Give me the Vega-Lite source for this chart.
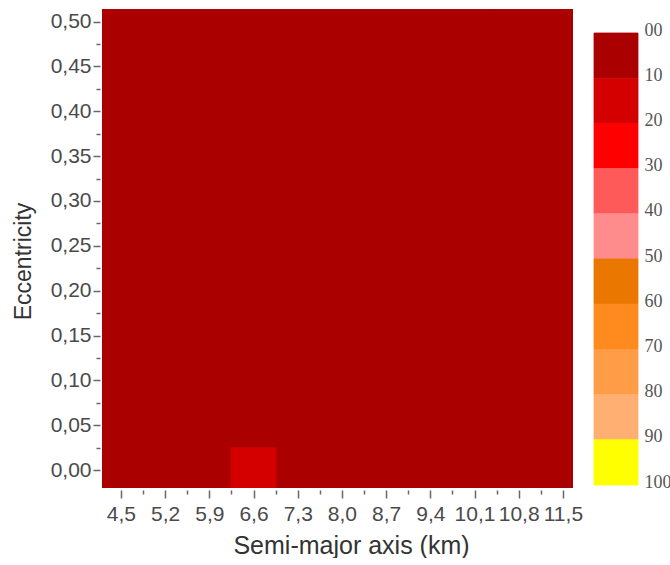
{
  "$schema": "https://vega.github.io/schema/vega-lite/v6.json",
  "background": "white",
  "padding": {"left": 12, "top": 9, "right": 0, "bottom": 0},
  "spacing": 10,
  "datasets": {
    "grid": [
      {"x0":4.15,"x1":4.85,"y0":-0.02,"y1":0.0245,"v":5},{"x0":4.15,"x1":4.85,"y0":0.0245,"y1":0.069,"v":5},{"x0":4.15,"x1":4.85,"y0":0.069,"y1":0.1135,"v":5},{"x0":4.15,"x1":4.85,"y0":0.1135,"y1":0.158,"v":5},{"x0":4.15,"x1":4.85,"y0":0.158,"y1":0.2025,"v":5},{"x0":4.15,"x1":4.85,"y0":0.2025,"y1":0.247,"v":5},{"x0":4.15,"x1":4.85,"y0":0.247,"y1":0.2915,"v":5},{"x0":4.15,"x1":4.85,"y0":0.2915,"y1":0.336,"v":5},{"x0":4.15,"x1":4.85,"y0":0.336,"y1":0.3805,"v":5},{"x0":4.15,"x1":4.85,"y0":0.3805,"y1":0.425,"v":5},{"x0":4.15,"x1":4.85,"y0":0.425,"y1":0.4695,"v":5},{"x0":4.15,"x1":4.85,"y0":0.4695,"y1":0.514,"v":5},
      {"x0":4.85,"x1":5.55,"y0":-0.02,"y1":0.0245,"v":5},{"x0":4.85,"x1":5.55,"y0":0.0245,"y1":0.069,"v":5},{"x0":4.85,"x1":5.55,"y0":0.069,"y1":0.1135,"v":5},{"x0":4.85,"x1":5.55,"y0":0.1135,"y1":0.158,"v":5},{"x0":4.85,"x1":5.55,"y0":0.158,"y1":0.2025,"v":5},{"x0":4.85,"x1":5.55,"y0":0.2025,"y1":0.247,"v":5},{"x0":4.85,"x1":5.55,"y0":0.247,"y1":0.2915,"v":5},{"x0":4.85,"x1":5.55,"y0":0.2915,"y1":0.336,"v":5},{"x0":4.85,"x1":5.55,"y0":0.336,"y1":0.3805,"v":5},{"x0":4.85,"x1":5.55,"y0":0.3805,"y1":0.425,"v":5},{"x0":4.85,"x1":5.55,"y0":0.425,"y1":0.4695,"v":5},{"x0":4.85,"x1":5.55,"y0":0.4695,"y1":0.514,"v":5},
      {"x0":5.55,"x1":6.25,"y0":-0.02,"y1":0.0245,"v":5},{"x0":5.55,"x1":6.25,"y0":0.0245,"y1":0.069,"v":5},{"x0":5.55,"x1":6.25,"y0":0.069,"y1":0.1135,"v":5},{"x0":5.55,"x1":6.25,"y0":0.1135,"y1":0.158,"v":5},{"x0":5.55,"x1":6.25,"y0":0.158,"y1":0.2025,"v":5},{"x0":5.55,"x1":6.25,"y0":0.2025,"y1":0.247,"v":5},{"x0":5.55,"x1":6.25,"y0":0.247,"y1":0.2915,"v":5},{"x0":5.55,"x1":6.25,"y0":0.2915,"y1":0.336,"v":5},{"x0":5.55,"x1":6.25,"y0":0.336,"y1":0.3805,"v":5},{"x0":5.55,"x1":6.25,"y0":0.3805,"y1":0.425,"v":5},{"x0":5.55,"x1":6.25,"y0":0.425,"y1":0.4695,"v":5},{"x0":5.55,"x1":6.25,"y0":0.4695,"y1":0.514,"v":5},
      {"x0":6.95,"x1":7.65,"y0":-0.02,"y1":0.0245,"v":5},{"x0":6.95,"x1":7.65,"y0":0.0245,"y1":0.069,"v":5},{"x0":6.95,"x1":7.65,"y0":0.069,"y1":0.1135,"v":5},{"x0":6.95,"x1":7.65,"y0":0.1135,"y1":0.158,"v":5},{"x0":6.95,"x1":7.65,"y0":0.158,"y1":0.2025,"v":5},{"x0":6.95,"x1":7.65,"y0":0.2025,"y1":0.247,"v":5},{"x0":6.95,"x1":7.65,"y0":0.247,"y1":0.2915,"v":5},{"x0":6.95,"x1":7.65,"y0":0.2915,"y1":0.336,"v":5},{"x0":6.95,"x1":7.65,"y0":0.336,"y1":0.3805,"v":5},{"x0":6.95,"x1":7.65,"y0":0.3805,"y1":0.425,"v":5},{"x0":6.95,"x1":7.65,"y0":0.425,"y1":0.4695,"v":5},{"x0":6.95,"x1":7.65,"y0":0.4695,"y1":0.514,"v":5},
      {"x0":7.65,"x1":8.35,"y0":-0.02,"y1":0.0245,"v":5},{"x0":7.65,"x1":8.35,"y0":0.0245,"y1":0.069,"v":5},{"x0":7.65,"x1":8.35,"y0":0.069,"y1":0.1135,"v":5},{"x0":7.65,"x1":8.35,"y0":0.1135,"y1":0.158,"v":5},{"x0":7.65,"x1":8.35,"y0":0.158,"y1":0.2025,"v":5},{"x0":7.65,"x1":8.35,"y0":0.2025,"y1":0.247,"v":5},{"x0":7.65,"x1":8.35,"y0":0.247,"y1":0.2915,"v":5},{"x0":7.65,"x1":8.35,"y0":0.2915,"y1":0.336,"v":5},{"x0":7.65,"x1":8.35,"y0":0.336,"y1":0.3805,"v":5},{"x0":7.65,"x1":8.35,"y0":0.3805,"y1":0.425,"v":5},{"x0":7.65,"x1":8.35,"y0":0.425,"y1":0.4695,"v":5},{"x0":7.65,"x1":8.35,"y0":0.4695,"y1":0.514,"v":5},
      {"x0":8.35,"x1":9.05,"y0":-0.02,"y1":0.0245,"v":5},{"x0":8.35,"x1":9.05,"y0":0.0245,"y1":0.069,"v":5},{"x0":8.35,"x1":9.05,"y0":0.069,"y1":0.1135,"v":5},{"x0":8.35,"x1":9.05,"y0":0.1135,"y1":0.158,"v":5},{"x0":8.35,"x1":9.05,"y0":0.158,"y1":0.2025,"v":5},{"x0":8.35,"x1":9.05,"y0":0.2025,"y1":0.247,"v":5},{"x0":8.35,"x1":9.05,"y0":0.247,"y1":0.2915,"v":5},{"x0":8.35,"x1":9.05,"y0":0.2915,"y1":0.336,"v":5},{"x0":8.35,"x1":9.05,"y0":0.336,"y1":0.3805,"v":5},{"x0":8.35,"x1":9.05,"y0":0.3805,"y1":0.425,"v":5},{"x0":8.35,"x1":9.05,"y0":0.425,"y1":0.4695,"v":5},{"x0":8.35,"x1":9.05,"y0":0.4695,"y1":0.514,"v":5},
      {"x0":9.05,"x1":9.75,"y0":-0.02,"y1":0.0245,"v":5},{"x0":9.05,"x1":9.75,"y0":0.0245,"y1":0.069,"v":5},{"x0":9.05,"x1":9.75,"y0":0.069,"y1":0.1135,"v":5},{"x0":9.05,"x1":9.75,"y0":0.1135,"y1":0.158,"v":5},{"x0":9.05,"x1":9.75,"y0":0.158,"y1":0.2025,"v":5},{"x0":9.05,"x1":9.75,"y0":0.2025,"y1":0.247,"v":5},{"x0":9.05,"x1":9.75,"y0":0.247,"y1":0.2915,"v":5},{"x0":9.05,"x1":9.75,"y0":0.2915,"y1":0.336,"v":5},{"x0":9.05,"x1":9.75,"y0":0.336,"y1":0.3805,"v":5},{"x0":9.05,"x1":9.75,"y0":0.3805,"y1":0.425,"v":5},{"x0":9.05,"x1":9.75,"y0":0.425,"y1":0.4695,"v":5},{"x0":9.05,"x1":9.75,"y0":0.4695,"y1":0.514,"v":5},
      {"x0":9.75,"x1":10.45,"y0":-0.02,"y1":0.0245,"v":5},{"x0":9.75,"x1":10.45,"y0":0.0245,"y1":0.069,"v":5},{"x0":9.75,"x1":10.45,"y0":0.069,"y1":0.1135,"v":5},{"x0":9.75,"x1":10.45,"y0":0.1135,"y1":0.158,"v":5},{"x0":9.75,"x1":10.45,"y0":0.158,"y1":0.2025,"v":5},{"x0":9.75,"x1":10.45,"y0":0.2025,"y1":0.247,"v":5},{"x0":9.75,"x1":10.45,"y0":0.247,"y1":0.2915,"v":5},{"x0":9.75,"x1":10.45,"y0":0.2915,"y1":0.336,"v":5},{"x0":9.75,"x1":10.45,"y0":0.336,"y1":0.3805,"v":5},{"x0":9.75,"x1":10.45,"y0":0.3805,"y1":0.425,"v":5},{"x0":9.75,"x1":10.45,"y0":0.425,"y1":0.4695,"v":5},{"x0":9.75,"x1":10.45,"y0":0.4695,"y1":0.514,"v":5},
      {"x0":10.45,"x1":11.15,"y0":-0.02,"y1":0.0245,"v":5},{"x0":10.45,"x1":11.15,"y0":0.0245,"y1":0.069,"v":5},{"x0":10.45,"x1":11.15,"y0":0.069,"y1":0.1135,"v":5},{"x0":10.45,"x1":11.15,"y0":0.1135,"y1":0.158,"v":5},{"x0":10.45,"x1":11.15,"y0":0.158,"y1":0.2025,"v":5},{"x0":10.45,"x1":11.15,"y0":0.2025,"y1":0.247,"v":5},{"x0":10.45,"x1":11.15,"y0":0.247,"y1":0.2915,"v":5},{"x0":10.45,"x1":11.15,"y0":0.2915,"y1":0.336,"v":5},{"x0":10.45,"x1":11.15,"y0":0.336,"y1":0.3805,"v":5},{"x0":10.45,"x1":11.15,"y0":0.3805,"y1":0.425,"v":5},{"x0":10.45,"x1":11.15,"y0":0.425,"y1":0.4695,"v":5},{"x0":10.45,"x1":11.15,"y0":0.4695,"y1":0.514,"v":5},
      {"x0":11.15,"x1":11.85,"y0":-0.02,"y1":0.0245,"v":5},{"x0":11.15,"x1":11.85,"y0":0.0245,"y1":0.069,"v":5},{"x0":11.15,"x1":11.85,"y0":0.069,"y1":0.1135,"v":5},{"x0":11.15,"x1":11.85,"y0":0.1135,"y1":0.158,"v":5},{"x0":11.15,"x1":11.85,"y0":0.158,"y1":0.2025,"v":5},{"x0":11.15,"x1":11.85,"y0":0.2025,"y1":0.247,"v":5},{"x0":11.15,"x1":11.85,"y0":0.247,"y1":0.2915,"v":5},{"x0":11.15,"x1":11.85,"y0":0.2915,"y1":0.336,"v":5},{"x0":11.15,"x1":11.85,"y0":0.336,"y1":0.3805,"v":5},{"x0":11.15,"x1":11.85,"y0":0.3805,"y1":0.425,"v":5},{"x0":11.15,"x1":11.85,"y0":0.425,"y1":0.4695,"v":5},{"x0":11.15,"x1":11.85,"y0":0.4695,"y1":0.514,"v":5},
      {"x0":6.25,"x1":6.95,"y0":0.0245,"y1":0.069,"v":5},{"x0":6.25,"x1":6.95,"y0":0.069,"y1":0.1135,"v":5},{"x0":6.25,"x1":6.95,"y0":0.1135,"y1":0.158,"v":5},{"x0":6.25,"x1":6.95,"y0":0.158,"y1":0.2025,"v":5},{"x0":6.25,"x1":6.95,"y0":0.2025,"y1":0.247,"v":5},{"x0":6.25,"x1":6.95,"y0":0.247,"y1":0.2915,"v":5},{"x0":6.25,"x1":6.95,"y0":0.2915,"y1":0.336,"v":5},{"x0":6.25,"x1":6.95,"y0":0.336,"y1":0.3805,"v":5},{"x0":6.25,"x1":6.95,"y0":0.3805,"y1":0.425,"v":5},{"x0":6.25,"x1":6.95,"y0":0.425,"y1":0.4695,"v":5},{"x0":6.25,"x1":6.95,"y0":0.4695,"y1":0.514,"v":5},
      {"x0":6.25,"x1":6.95,"y0":-0.02,"y1":0.0245,"v":15}
    ],
    "bins": [
      {"lo":0,"hi":10},{"lo":10,"hi":20},{"lo":20,"hi":30},{"lo":30,"hi":40},{"lo":40,"hi":50},
      {"lo":50,"hi":60},{"lo":60,"hi":70},{"lo":70,"hi":80},{"lo":80,"hi":90},{"lo":90,"hi":100}
    ]
  },
  "hconcat": [
    {
      "width": 471,
      "height": 479,
      "data": {"name": "grid"},
      "layer": [
        {
          "mark": {"type": "rect", "clip": true, "strokeWidth": 1.5},
          "encoding": {
            "x": {"field": "x0", "type": "quantitative",
              "scale": {"domain": [4.2, 11.66], "nice": false, "zero": false},
              "axis": {"orient": "bottom", "values": [4.5,5.2,5.9,6.6,7.3,8.0,8.7,9.4,10.1,10.8,11.5],
                "labelExpr": "replace(format(datum.value,'.1f'),'.',',')",
                "title": "Semi-major axis (km)", "domain": false, "grid": false,
                "tickSize": 8, "offset": 2, "labelPadding": 5, "labelFlush": false, "labelOverlap": false,
                "titlePadding": 9, "titleFontSize": 25, "titleX": 249}},
            "x2": {"field": "x1"},
            "y": {"field": "y0", "type": "quantitative",
              "scale": {"domain": [-0.02, 0.514], "nice": false, "zero": false},
              "axis": {"orient": "left", "values": [0,0.05,0.1,0.15,0.2,0.25,0.3,0.35,0.4,0.45,0.5],
                "labelExpr": "replace(format(datum.value,'.2f'),'.',',')",
                "title": "Eccentricity", "domain": false, "grid": false,
                "tickSize": 7, "offset": 2, "labelPadding": 2, "labelFlush": false, "labelOverlap": false,
                "titlePadding": 15, "titleFontSize": 23, "titleY": 252}},
            "y2": {"field": "y1"},
            "color": {"field": "v", "type": "quantitative",
              "scale": {"type": "threshold", "domain": [10,20,30,40,50,60,70,80,90],
                "range": ["#AA0000","#D40000","#FF0000","#FF5A5A","#FF8C8C","#EA7700","#FF8A1E","#FF9C48","#FFAF72","#FFFF00"]},
              "legend": null},
            "stroke": {"field": "v", "type": "quantitative",
              "scale": {"type": "threshold", "domain": [10,20,30,40,50,60,70,80,90],
                "range": ["#AA0000","#D40000","#FF0000","#FF5A5A","#FF8C8C","#EA7700","#FF8A1E","#FF9C48","#FFAF72","#FFFF00"]},
              "legend": null}
          }
        },
        {
          "mark": {"type": "rect", "clip": true, "opacity": 0},
          "encoding": {
            "x": {"field": "x0", "type": "quantitative",
              "axis": {"orient": "bottom", "values": [4.85,5.55,6.25,6.95,7.65,8.35,9.05,9.75,10.45,11.15],
                "labels": false, "title": null, "domain": false, "grid": false, "tickSize": 4, "offset": 2}},
            "x2": {"field": "x1"},
            "y": {"field": "y0", "type": "quantitative",
              "axis": {"orient": "left", "values": [0.025,0.075,0.125,0.175,0.225,0.275,0.325,0.375,0.425,0.475],
                "labels": false, "title": null, "domain": false, "grid": false, "tickSize": 4, "offset": 2}},
            "y2": {"field": "y1"}
          }
        }
      ],
      "resolve": {"axis": {"x": "independent", "y": "independent"}}
    },
    {
      "width": 44,
      "height": 479,
      "data": {"name": "bins"},
      "mark": {"type": "rect", "strokeWidth": 0.8},
      "encoding": {
        "y": {"field": "lo", "type": "quantitative",
          "scale": {"domain": [-5.31, 100.66], "reverse": true, "nice": false, "zero": false},
          "axis": {"orient": "right", "values": [0,10,20,30,40,50,60,70,80,90,100],
            "labelExpr": "datum.value == 0 ? '00' : datum.label",
            "title": null, "domain": false, "ticks": false, "grid": false,
            "labelFont": "Liberation Serif", "labelFontSize": 18, "labelColor": "#555",
            "labelPadding": 6, "labelOffset": -3, "labelFlush": false, "labelOverlap": false}},
        "y2": {"field": "hi"},
        "color": {"field": "lo", "type": "quantitative",
          "scale": {"type": "threshold", "domain": [10,20,30,40,50,60,70,80,90],
            "range": ["#AA0000","#D40000","#FF0000","#FF5A5A","#FF8C8C","#EA7700","#FF8A1E","#FF9C48","#FFAF72","#FFFF00"]},
          "legend": null},
        "stroke": {"field": "lo", "type": "quantitative",
          "scale": {"type": "threshold", "domain": [10,20,30,40,50,60,70,80,90],
            "range": ["#AA0000","#D40000","#FF0000","#FF5A5A","#FF8C8C","#EA7700","#FF8A1E","#FF9C48","#FFAF72","#FFFF00"]},
          "legend": null}
      }
    }
  ],
  "resolve": {"scale": {"color": "independent", "stroke": "independent"}},
  "config": {
    "view": {"stroke": null},
    "axis": {
      "tickColor": "#666", "tickWidth": 1.5,
      "labelFont": "Liberation Sans", "labelFontSize": 21, "labelColor": "#4a4a4a",
      "titleFont": "Liberation Sans", "titleFontSize": 23, "titleFontWeight": "normal", "titleColor": "#333"
    }
  }
}
